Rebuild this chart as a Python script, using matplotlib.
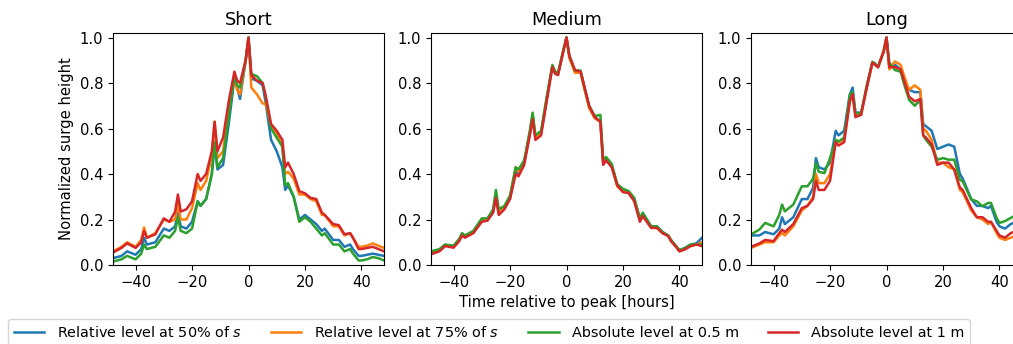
import numpy as np
from matplotlib import pyplot as plt

plt.rcParams["font.size"] = 10.6

# hours relative to the peak (shared by every panel)
hours = [-48, -45, -43, -40, -38, -37, -36, -33, -30, -28, -26, -25, -24, -22, -20,
         -18, -17, -15, -13, -12, -11, -9, -7, -5, -4, -3, -1, 0, 1, 3, 5, 6, 8, 10,
         12, 13, 14, 16, 18, 20, 22, 24, 26, 27, 30, 32, 34, 36, 37, 39, 40, 42, 44,
         46, 48]

labels = ["Relative level at 50% of $s$", "Relative level at 75% of $s$",
          "Absolute level at 0.5 m", "Absolute level at 1 m"]
colors = ["tab:blue", "tab:orange", "tab:green", "tab:red"]
titles = ["Short", "Medium", "Long"]

# short events
short_rel50 = [.03, .04, .06, .045, .07, .12, .09, .10, .16, .15, .17, .23, .17, .16, .19,
               .28, .26, .29, .40, .53, .42, .44, .62, .82, .78, .73, .90, 1.0, .82, .81,
               .79, .72, .55, .50, .43, .33, .35, .30, .20, .22, .20, .18, .15, .16, .11,
               .11, .08, .09, .07, .04, .04, .045, .05, .045, .04]
short_rel75 = [.06, .08, .10, .08, .11, .165, .12, .14, .20, .19, .20, .27, .20, .20, .25,
               .36, .33, .37, .48, .63, .47, .50, .68, .82, .77, .75, .90, 1.0, .78, .75,
               .71, .71, .61, .58, .52, .40, .41, .38, .31, .31, .29, .28, .22, .22, .17,
               .17, .13, .14, .12, .08, .08, .085, .095, .085, .075]
short_abs05 = [.015, .025, .04, .025, .05, .09, .07, .08, .13, .12, .15, .21, .15, .14, .16,
               .28, .26, .29, .40, .54, .43, .47, .65, .83, .79, .78, .90, 1.0, .84, .83,
               .80, .74, .60, .56, .52, .35, .36, .30, .19, .21, .19, .16, .13, .14, .09,
               .09, .06, .07, .05, .02, .02, .025, .035, .03, .02]
short_abs1 = [.055, .075, .095, .075, .10, .15, .12, .135, .205, .19, .235, .31, .235, .245, .28,
              .40, .37, .40, .50, .63, .50, .56, .72, .85, .81, .80, .90, 1.0, .835, .81,
              .80, .75, .62, .59, .55, .43, .45, .40, .325, .315, .295, .29, .23, .22, .18,
              .175, .135, .14, .12, .07, .07, .075, .08, .07, .06]

# medium events
medium_rel50 = [.055, .065, .088, .082, .11, .135, .125, .145, .20, .20, .235, .305, .23, .25, .295,
                .42, .40, .45, .58, .66, .56, .58, .73, .875, .845, .84, .95, 1.0, .92, .85,
                .85, .80, .70, .65, .63, .45, .47, .44, .35, .33, .32, .29, .20, .225, .17,
                .17, .145, .13, .11, .08, .065, .075, .09, .095, .12]
medium_rel75 = [.055, .065, .088, .082, .11, .135, .125, .145, .20, .20, .235, .31, .235, .25, .30,
                .43, .41, .45, .58, .65, .56, .58, .73, .875, .845, .84, .95, 1.0, .91, .845,
                .845, .79, .69, .645, .63, .45, .465, .435, .345, .325, .315, .285, .20, .22, .165,
                .165, .14, .13, .11, .08, .06, .07, .085, .09, .10]
medium_abs05 = [.06, .07, .09, .085, .115, .14, .13, .15, .205, .205, .245, .33, .245, .26, .305,
                .43, .42, .46, .59, .67, .57, .59, .74, .88, .85, .845, .95, 1.0, .92, .855,
                .855, .80, .70, .655, .66, .46, .475, .445, .355, .335, .325, .295, .205, .23, .17,
                .17, .145, .13, .11, .08, .065, .075, .09, .09, .09]
medium_abs1 = [.047, .06, .083, .076, .105, .13, .12, .14, .19, .195, .23, .295, .22, .245, .29,
               .40, .39, .44, .57, .64, .55, .57, .72, .87, .84, .835, .945, 1.0, .92, .857,
               .85, .80, .70, .65, .63, .44, .46, .43, .35, .32, .317, .28, .19, .215, .163,
               .163, .14, .127, .105, .076, .06, .069, .083, .09, .083]

# long events
long_rel50 = [.13, .13, .145, .135, .16, .21, .18, .21, .29, .29, .34, .47, .43, .42, .45,
              .59, .57, .59, .75, .78, .67, .67, .78, .89, .88, .87, .94, 1.0, .87, .88,
              .86, .82, .77, .76, .76, .62, .61, .59, .51, .52, .53, .52, .40, .38, .29,
              .26, .26, .25, .26, .19, .17, .16, .18, .19, .20]
long_rel75 = [.075, .09, .10, .10, .13, .14, .13, .17, .24, .26, .30, .40, .36, .36, .40,
              .55, .54, .55, .72, .75, .66, .66, .78, .89, .88, .87, .94, 1.0, .86, .895,
              .88, .84, .77, .79, .77, .60, .59, .55, .45, .45, .43, .42, .33, .32, .24,
              .21, .20, .18, .19, .14, .12, .11, .12, .13, .13]
long_abs05 = [.134, .156, .185, .17, .22, .266, .236, .266, .346, .346, .38, .448, .41, .404, .47,
              .55, .543, .56, .747, .76, .667, .667, .79, .893, .886, .87, .937, 1.0, .89, .857,
              .85, .805, .726, .70, .726, .57, .55, .52, .463, .47, .463, .463, .375, .368, .288,
              .28, .258, .273, .273, .207, .185, .193, .207, .22, .23]
long_abs1 = [.08, .095, .11, .105, .14, .155, .145, .18, .25, .26, .29, .37, .33, .33, .37,
             .54, .525, .54, .72, .75, .65, .66, .78, .89, .88, .87, .94, 1.0, .87, .87,
             .86, .82, .74, .72, .73, .57, .56, .53, .44, .45, .45, .42, .34, .33, .25,
             .21, .21, .19, .19, .15, .13, .12, .14, .15, .15]

panels = [
    [short_rel50, short_rel75, short_abs05, short_abs1],
    [medium_rel50, medium_rel75, medium_abs05, medium_abs1],
    [long_rel50, long_rel75, long_abs05, long_abs1],
]

fig = plt.figure(figsize=(10.13, 3.44), dpi=100)
lefts = [113, 431, 751]
axes = []
for i, left in enumerate(lefts):
    ax = fig.add_axes([left / 1013, 79 / 344, 271 / 1013, 232 / 344])
    for series, c, lab in zip(panels[i], colors, labels):
        ax.plot(hours, series, color=c, lw=1.8, label=lab)
    ax.set_xlim(-48, 48)
    ax.set_ylim(0, 1.02)
    ax.set_yticks(np.arange(0, 1.01, 0.2))
    ax.set_xticks([-40, -20, 0, 20, 40])
    ax.set_title(titles[i])
    axes.append(ax)

axes[0].set_ylabel("Normalized surge height")
axes[1].set_xlabel("Time relative to peak [hours]")

handles, labs = axes[0].get_legend_handles_labels()
fig.legend(handles, labs, loc="upper left", ncol=4, bbox_to_anchor=(8 / 1013, 25 / 344),
           borderaxespad=0, fontsize=10.4, handlelength=2.1, handletextpad=0.9,
           columnspacing=2.0)

plt.savefig("out.png", dpi=100)
